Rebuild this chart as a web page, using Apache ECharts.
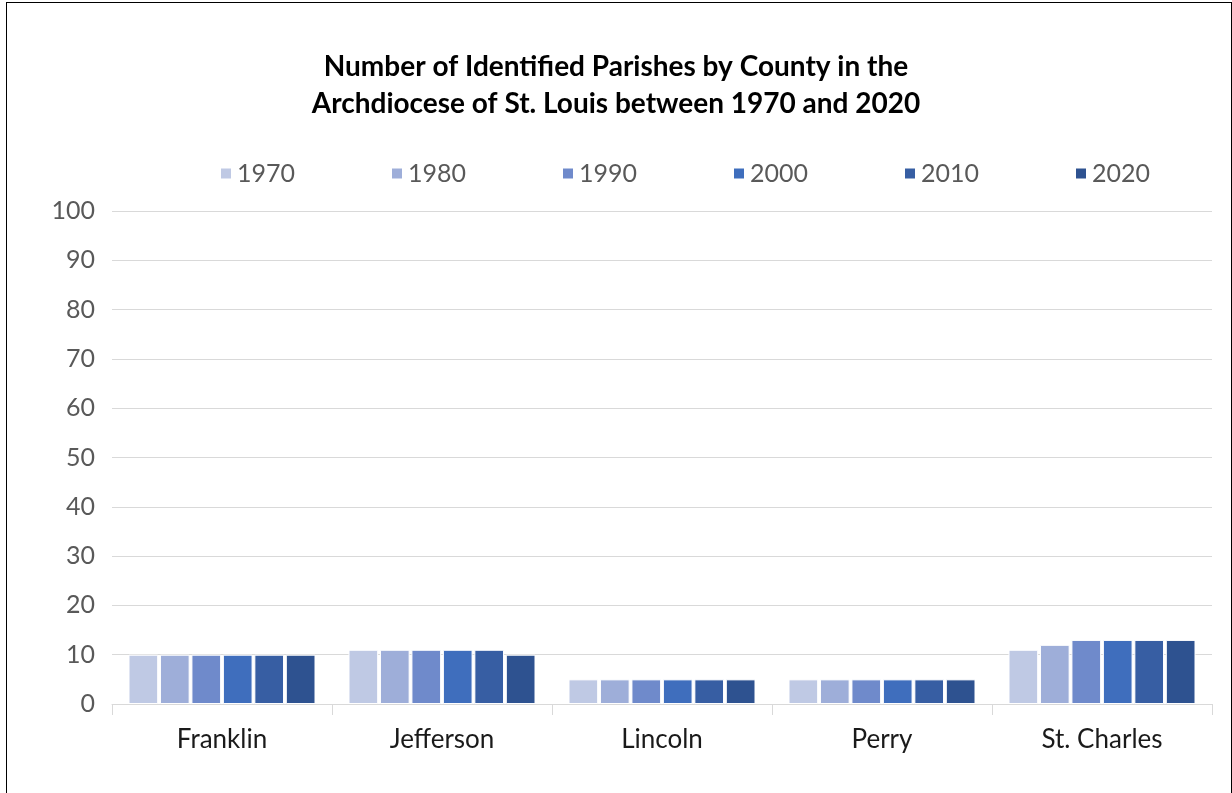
<!DOCTYPE html>
<html>
<head>
<meta charset="utf-8">
<script src="https://cdn.jsdelivr.net/npm/echarts@6/dist/echarts.min.js"></script>
<style>
html, body { margin: 0; padding: 0; background: #fff; }
#frame { position: absolute; left: 6px; top: 2px; width: 1224px; height: 800px; border: 1px solid #000; }
#main { position: absolute; left: 0; top: 0; width: 1232px; height: 793px; }
</style>
</head>
<body>
<div id="frame"></div>
<div id="main"></div>
<script>
var counties = ['Franklin', 'Jefferson', 'Lincoln', 'Perry', 'St. Charles'];
var years = ['1970', '1980', '1990', '2000', '2010', '2020'];
var colors = ['#bfc9e4', '#9eaed9', '#6f8acb', '#3f6ebd', '#375ea3', '#2e5290'];

var v1970 = [10, 11, 5, 5, 11];
var v1980 = [10, 11, 5, 5, 12];
var v1990 = [10, 11, 5, 5, 13];
var v2000 = [10, 11, 5, 5, 13];
var v2010 = [10, 11, 5, 5, 13];
var v2020 = [10, 10, 5, 5, 13];
var values = [v1970, v1980, v1990, v2000, v2010, v2020];

var fontName = 'Lato, "Open Sans", sans-serif';

var series = [];
for (var i = 0; i < years.length; i++) {
    series.push({
        name: years[i],
        type: 'bar',
        barGap: '6%',
        barCategoryGap: '15%',
        itemStyle: { color: colors[i], borderColor: '#ffffff', borderWidth: 1 },
        data: values[i]
    });
}

var myChart = echarts.init(document.getElementById('main'));
var option = {
    backgroundColor: 'transparent',
    animation: false,
    title: {
        text: 'Number of Identified Parishes by County in the\nArchdiocese of St. Louis between 1970 and 2020',
        left: 'center',
        top: 43,
        textStyle: { fontFamily: fontName, fontWeight: 'bold', fontSize: 28, lineHeight: 37, color: '#000' }
    },
    legend: {
        left: 214,
        top: 156,
        icon: 'rect',
        itemWidth: 12,
        itemHeight: 12,
        itemGap: 95,
        textStyle: { fontFamily: fontName, fontSize: 25, color: '#595959', width: 52 },
        data: years
    },
    grid: { left: 112, right: 20, top: 211, bottom: 89 },
    xAxis: {
        type: 'category',
        data: counties,
        axisLine: { lineStyle: { color: '#d9d9d9', width: 1 } },
        axisTick: { show: true, length: 11, lineStyle: { color: '#d9d9d9' } },
        axisLabel: { fontFamily: fontName, fontSize: 26, color: '#1a1a1a', margin: 23 }
    },
    yAxis: {
        type: 'value',
        min: 0,
        max: 100,
        interval: 10,
        axisLine: { show: false },
        axisTick: { show: false },
        splitLine: { lineStyle: { color: '#d9d9d9', width: 1 } },
        axisLabel: { fontFamily: fontName, fontSize: 25, color: '#595959', margin: 17 }
    },
    series: series
};
myChart.setOption(option);
</script>
</body>
</html>
